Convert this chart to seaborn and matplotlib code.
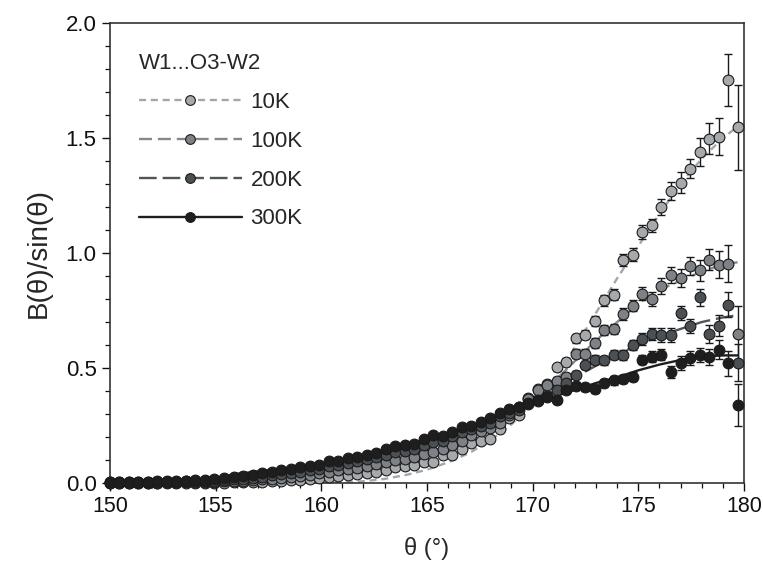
import numpy as np
import matplotlib
matplotlib.use("Agg")
import matplotlib.pyplot as plt
import seaborn as sns
from matplotlib.lines import Line2D
from matplotlib.ticker import MultipleLocator, FormatStrFormatter

# angle grid, 0.45 deg steps from 150 to 179.7
theta = np.round(150 + 0.45 * np.arange(67), 2)

b10 = [0.000, 0.000, 0.000, 0.000, 0.000, 0.000, 0.001, 0.001, 0.001, 0.001, 0.002, 0.002, 0.002,
       0.003, 0.003, 0.004, 0.006, 0.008, 0.010, 0.012, 0.015, 0.018, 0.022, 0.026, 0.030, 0.035,
       0.040, 0.045, 0.050, 0.058, 0.068, 0.072, 0.080, 0.092, 0.090, 0.120, 0.122, 0.148, 0.172,
       0.185, 0.190, 0.235, 0.282, 0.296, 0.370, 0.410, 0.430, 0.504, 0.525, 0.630, 0.645,
       0.706, 0.794, 0.819, 0.969, 0.993, 1.091, 1.120, 1.200, 1.269, 1.306, 1.367, 1.439, 1.497,
       1.506, 1.753, 1.546]
b100 = [0.001, 0.001, 0.001, 0.002, 0.002, 0.002, 0.003, 0.003, 0.004, 0.004, 0.005, 0.006, 0.007,
        0.009, 0.011, 0.013, 0.016, 0.019, 0.023, 0.027, 0.032, 0.036, 0.042, 0.048, 0.055, 0.060,
        0.067, 0.075, 0.082, 0.092, 0.100, 0.106, 0.115, 0.125, 0.135, 0.150, 0.165, 0.185, 0.210,
        0.225, 0.238, 0.262, 0.296, 0.330, 0.365, 0.405, 0.428, 0.445, 0.462, 0.562, 0.562,
        0.609, 0.667, 0.670, 0.735, 0.771, 0.824, 0.802, 0.858, 0.906, 0.892, 0.943, 0.925, 0.972,
        0.950, 0.954, 0.648]
b200 = [0.003, 0.003, 0.003, 0.004, 0.004, 0.005, 0.005, 0.006, 0.007, 0.008, 0.009, 0.011, 0.013,
        0.016, 0.019, 0.023, 0.028, 0.033, 0.038, 0.044, 0.050, 0.056, 0.063, 0.072, 0.080, 0.088,
        0.096, 0.104, 0.113, 0.122, 0.135, 0.140, 0.150, 0.165, 0.180, 0.185, 0.205, 0.222, 0.235,
        0.250, 0.262, 0.290, 0.305, 0.318, 0.345, 0.355, 0.380, 0.405, 0.435, 0.471, 0.514,
        0.536, 0.533, 0.558, 0.558, 0.601, 0.626, 0.648, 0.645, 0.645, 0.739, 0.684, 0.807, 0.648,
        0.684, 0.776, 0.524]
b300 = [0.005, 0.005, 0.005, 0.006, 0.006, 0.007, 0.008, 0.009, 0.010, 0.012, 0.014, 0.017, 0.020,
        0.025, 0.030, 0.034, 0.045, 0.050, 0.055, 0.062, 0.068, 0.075, 0.080, 0.095, 0.098, 0.108,
        0.113, 0.122, 0.132, 0.147, 0.161, 0.166, 0.170, 0.190, 0.207, 0.206, 0.224, 0.243, 0.250,
        0.267, 0.282, 0.306, 0.321, 0.330, 0.347, 0.362, 0.376, 0.360, 0.405, 0.423, 0.417,
        0.408, 0.434, 0.446, 0.452, 0.463, 0.536, 0.550, 0.558, 0.482, 0.521, 0.543, 0.558, 0.548,
        0.580, 0.521, 0.340]

# error bars, only on the last 20 points (index 47 onward)
err_start = 47
e10 = [0.015, 0.018, 0.02, 0.02, 0.022, 0.025, 0.025, 0.025, 0.028, 0.03,
       0.03, 0.035, 0.04, 0.045, 0.04, 0.06, 0.067, 0.08, 0.113, 0.185]
e100 = [0.015, 0.015, 0.02, 0.02, 0.02, 0.022, 0.022, 0.025, 0.025, 0.03,
        0.03, 0.035, 0.035, 0.04, 0.04, 0.045, 0.045, 0.06, 0.08, 0.12]
e200 = [0.015, 0.015, 0.015, 0.018, 0.02, 0.02, 0.02, 0.022, 0.022, 0.025,
        0.025, 0.03, 0.03, 0.03, 0.03, 0.035, 0.04, 0.045, 0.055, 0.08]
e300 = [0.012, 0.012, 0.015, 0.015, 0.015, 0.015, 0.018, 0.018, 0.02, 0.02,
        0.025, 0.025, 0.025, 0.03, 0.03, 0.03, 0.035, 0.04, 0.055, 0.09]

# fitted curves
fit_theta = [150, 151, 152, 153, 154, 155, 156, 157, 158, 159, 160, 161, 162, 163, 164, 165,
             166, 167, 168, 169, 170, 171, 172, 173, 174, 175, 176, 177, 178, 179, 179.7]
fit10 = [0, 0, 0, 0, 0, 0, 0, 0, 0, 0, 0.001, 0.003, 0.008, 0.018, 0.035, 0.058,
         0.09, 0.13, 0.185, 0.255, 0.35, 0.45, 0.59, 0.74, 0.89, 1.03, 1.17, 1.30, 1.41, 1.50, 1.55]
fit100 = [0.001, 0.002, 0.003, 0.004, 0.005, 0.006, 0.008, 0.013, 0.02, 0.03, 0.04, 0.052, 0.067,
          0.085, 0.105, 0.13, 0.16, 0.2, 0.245, 0.3, 0.37, 0.44, 0.53, 0.62, 0.70, 0.78, 0.84,
          0.88, 0.92, 0.95, 0.96]
fit200 = [0.003, 0.004, 0.005, 0.007, 0.009, 0.012, 0.015, 0.022, 0.03, 0.04, 0.06, 0.075, 0.09,
          0.115, 0.14, 0.165, 0.19, 0.225, 0.26, 0.3, 0.35, 0.4, 0.46, 0.51, 0.56, 0.6, 0.64,
          0.67, 0.70, 0.72, 0.73]
fit300 = [0.005, 0.006, 0.008, 0.01, 0.014, 0.02, 0.04, 0.05, 0.06, 0.07, 0.085, 0.1, 0.12,
          0.145, 0.165, 0.19, 0.215, 0.245, 0.28, 0.31, 0.345, 0.375, 0.405, 0.435, 0.46, 0.49,
          0.515, 0.535, 0.55, 0.555, 0.555]

labels = ['10K', '100K', '200K', '300K']
point_colors = ['#a6aaad', '#7e8286', '#4b5054', '#1e1e1e']
line_colors = ['#a3a7ab', '#85898d', '#4f5558', '#1e1e1e']
line_styles = [(0, (3, 2)), (0, (5.5, 2.5)), (0, (7.5, 2.5)), '-']

sns.set_style('ticks')
plt.rcParams['font.family'] = ['Liberation Sans', 'DejaVu Sans']

fig, ax = plt.subplots(figsize=(7.63, 5.63), dpi=100)
fig.subplots_adjust(left=0.144, right=0.975, top=0.959, bottom=0.142)

series = zip(labels, [b10, b100, b200, b300], [e10, e100, e200, e300],
             [fit10, fit100, fit200, fit300], point_colors, line_colors, line_styles)
handles = []
for lab, b, e, f, pc, lc, ls in series:
    sns.lineplot(x=fit_theta, y=f, color=lc, linewidth=1.7, linestyle=ls, ax=ax, zorder=2)
    ax.errorbar(theta[err_start:], b[err_start:], yerr=e, fmt='none', ecolor='#1a1a1a',
                elinewidth=1.0, capsize=3.2, capthick=1.0, zorder=3)
    sns.scatterplot(x=theta, y=b, color=pc, edgecolor='#1a1a1a', linewidth=0.8, s=60,
                    ax=ax, zorder=4, clip_on=False)
    handles.append(Line2D([0], [0], color=lc, lw=1.7, linestyle=ls, marker='o', markersize=7,
                          markerfacecolor=pc, markeredgecolor='#1a1a1a', markeredgewidth=0.8))

ax.set_xlim(150, 180)
ax.set_ylim(0, 2.0)
ax.xaxis.set_major_locator(MultipleLocator(5))
ax.xaxis.set_minor_locator(MultipleLocator(1))
ax.yaxis.set_major_locator(MultipleLocator(0.5))
ax.yaxis.set_minor_locator(MultipleLocator(0.1))
ax.yaxis.set_major_formatter(FormatStrFormatter('%.1f'))
ax.tick_params(which='major', direction='out', length=6, width=1, labelsize=16, colors='#111111')
ax.tick_params(axis='x', which='major', labelsize=15.5)
ax.tick_params(which='minor', direction='out', length=3.5, width=0.9, colors='#111111')
for sp in ax.spines.values():
    sp.set_color('#333333')
    sp.set_linewidth(1.2)

ax.set_xlabel('θ (°)', fontsize=17, labelpad=14)
ax.set_ylabel('B(θ)/sin(θ)', fontsize=20, labelpad=10)

ax.legend(handles, labels, title='W1...O3-W2', loc='upper left', bbox_to_anchor=(0.015, 0.978),
          frameon=False, fontsize=16, title_fontsize=16, handlelength=4.6, handletextpad=0.4,
          labelspacing=0.8, alignment='left')

plt.savefig('out.png', dpi=100)
